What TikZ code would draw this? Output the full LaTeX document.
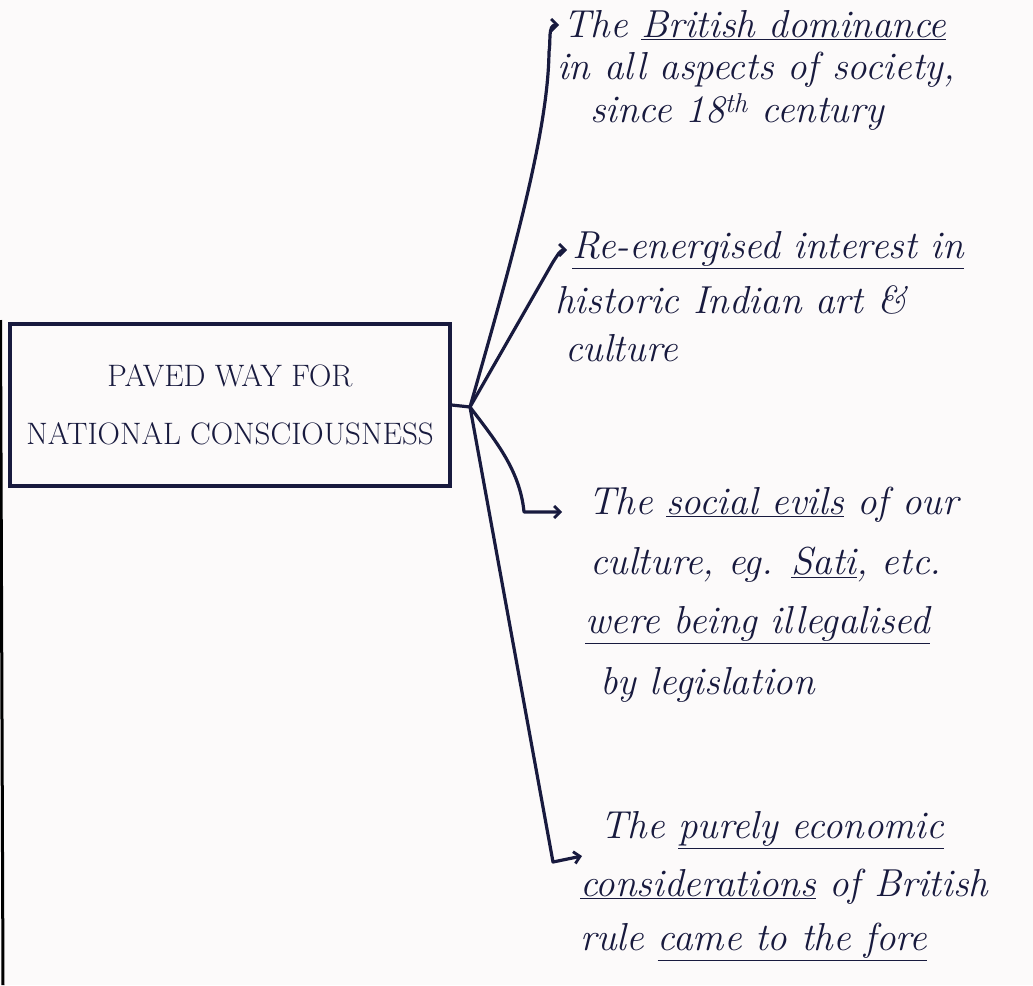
\documentclass[tikz,border=0pt]{standalone}
\usetikzlibrary{arrows.meta}
\definecolor{ink}{RGB}{24,26,62}
\definecolor{paper}{RGB}{252,250,250}
\begin{document}
\begin{tikzpicture}[x=1pt,y=-1pt,
  inkline/.style={draw=ink, line width=3.2pt, line cap=round, line join=round},
  conn/.style={inkline, -{Straight Barb[length=6pt,width=12pt,line width=2.8pt]}},
  itemtext/.style={anchor=west, inner sep=0pt, text=ink, font=\fontsize{39}{44}\selectfont\itshape},
  boxstyle/.style={draw=ink, line width=3.2pt, minimum width=440pt, minimum height=162pt,
    align=center, text=ink, font=\fontsize{31}{34}\selectfont, inner sep=0pt}
]
\fill[paper] (0,0) rectangle (1033,985);
\useasboundingbox (0,0) rectangle (1033,985);
\draw[line width=3pt, draw=black] (0.5,320) -- (3,985);

\node[boxstyle] (box) at (230,405) {PAVED WAY FOR\\[24pt]NATIONAL CONSCIOUSNESS};
\coordinate (hub) at (470,407);

% item 1
\node[itemtext] (i1a) at (563,25) {The \underline{British dominance}};
\node[itemtext] (i1b) at (557,70) {in all aspects of society,};
\node[itemtext] (i1c) at (590,112) {since 18\textsuperscript{th} century};
% item 2
\node[itemtext] (i2a) at (572,250) {\underline{Re-energised interest in}};
\node[itemtext] (i2b) at (555,300) {historic Indian art \&};
\node[itemtext] (i2c) at (565,348) {culture};
% item 3
\node[itemtext] (i3a) at (588,505) {The \underline{social evils} of our};
\node[itemtext] (i3b) at (590,565) {culture, eg. \underline{Sati}, etc.};
\node[itemtext] (i3c) at (585,625) {\underline{were being illegalised}};
\node[itemtext] (i3d) at (600,685) {by legislation};
% item 4
\node[itemtext] (i4a) at (600,830) {The \underline{purely economic}};
\node[itemtext] (i4b) at (580,887) {\underline{considerations} of British};
\node[itemtext] (i4c) at (580,942) {rule \underline{came to the fore}};

% connectors
\draw[inkline] (box.east) -- (hub);
\draw[conn] (hub) .. controls (515,250) and (548,130) .. (549,52) to[out=80,in=180] ([xshift=-4pt]i1a.west);
\draw[conn] (hub) -- (553,262) to[out=55,in=180] ([xshift=-5pt]i2a.west);
\draw[conn] (hub) .. controls (495,440) and (520,470) .. (524,512) -- ([xshift=-26pt,yshift=-7pt]i3a.west);
\draw[conn] (hub) -- (553,862) -- ([xshift=-18pt,yshift=-26pt]i4a.west);
\end{tikzpicture}
\end{document}
